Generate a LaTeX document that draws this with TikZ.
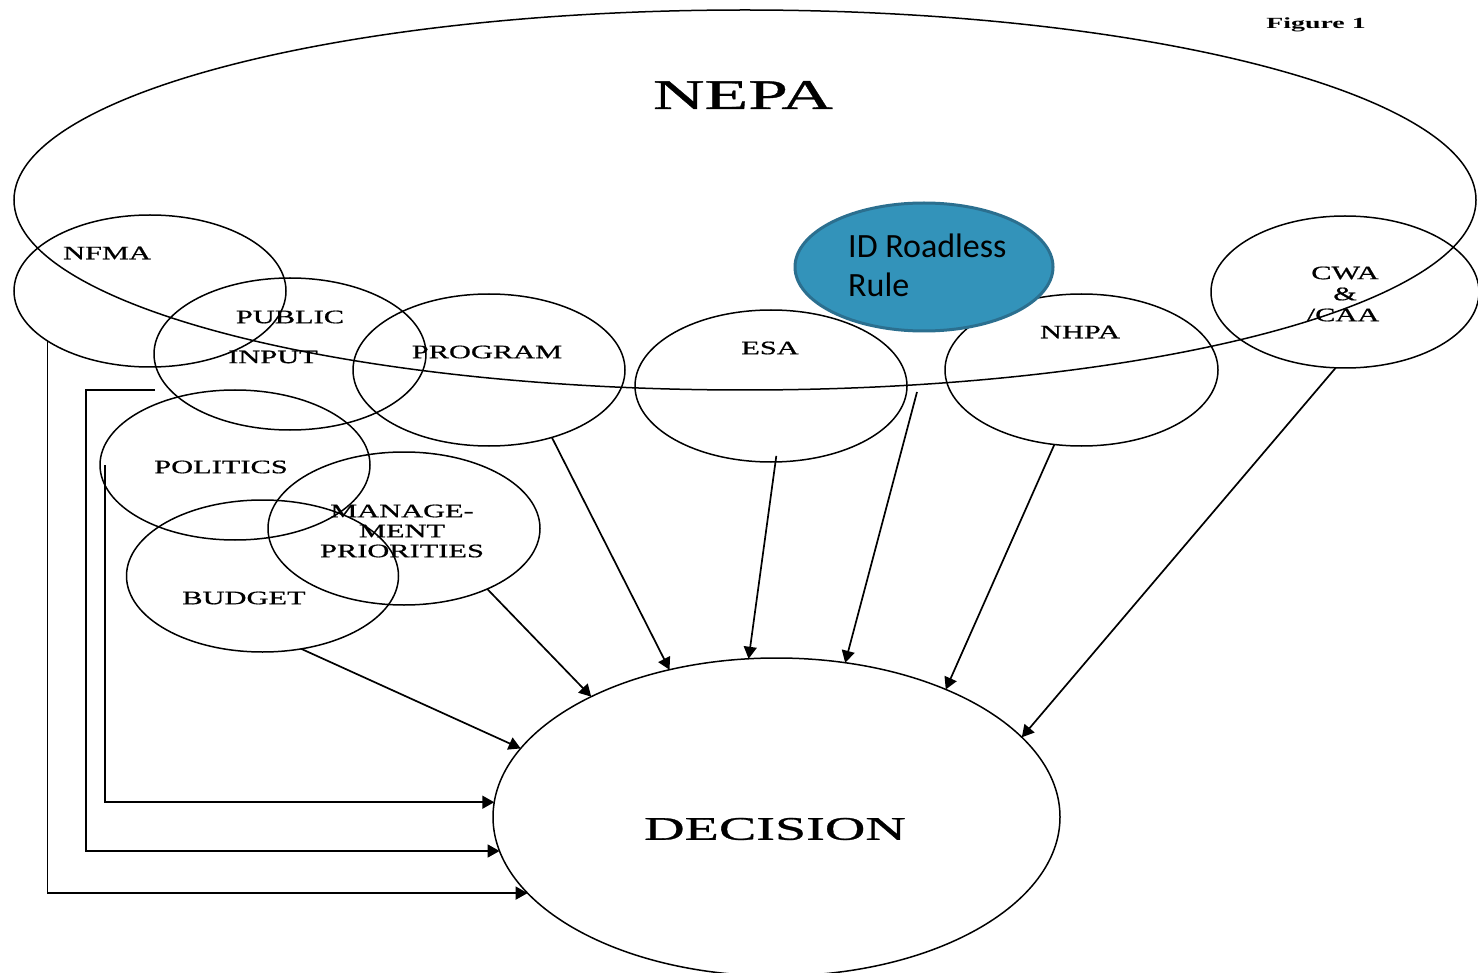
\documentclass[tikz,border=0pt]{standalone}
\usepackage{fontspec}
\setmainfont{Liberation Serif}
\newfontfamily\labfont[FakeStretch=1.6,FakeBold=0.8]{Liberation Serif}
\newfontfamily\bigfont[FakeStretch=1.7,FakeBold=0.8]{Liberation Serif}
\newfontfamily\figfont[FakeStretch=1.8]{Liberation Serif}
\newfontfamily\rulefont{Carlito}
\usetikzlibrary{shapes.geometric,arrows.meta}
\definecolor{rulefill}{HTML}{3393BA}
\definecolor{ruleedge}{HTML}{2B6F8F}
\tikzset{
  oval/.style={draw=black, ellipse, line width=1.5pt, inner sep=0pt, outer sep=0pt,
               minimum width=272pt, minimum height=152pt},
  lab/.style={font=\labfont\fontsize{19}{20}\selectfont, inner sep=0pt, align=center},
  big/.style={inner sep=0pt},
  arr/.style={-{Triangle[length=12pt,width=13pt]}, line width=1.7pt},
}
\begin{document}
\begin{tikzpicture}[x=1pt,y=-1pt]
\useasboundingbox (0,0) rectangle (1478,973);
\clip (0,0) rectangle (1478,973);
% big NEPA ellipse
\node[oval, minimum width=1462pt, minimum height=380pt] (nepa) at (745,200) {};
\node[big, font=\bigfont\fontsize{42}{44}\selectfont] (nepat) at (743,95) {NEPA};
\node[big, font=\figfont\bfseries\fontsize{15.5}{17}\selectfont] (fig) at (1316,25) {Figure 1};
% small ellipses
\node[oval] (nfma) at (150,291) {};
\node[oval] (pub)  at (290,354) {};
\node[oval] (prog) at (489,370) {};
\node[oval] (esa)  at (771,386) {};
\node[oval, minimum width=273pt] (nhpa) at (1081.5,370) {};
\node[oval, minimum width=268pt] (cwa)  at (1345,292) {};
\node[oval, minimum width=270pt, minimum height=150pt] (pol)  at (235,465) {};
\node[oval, minimum height=153pt] (mgmt) at (404,528.5) {};
\node[oval] (bud)  at (262.5,576) {};
\node[oval, minimum width=567pt, minimum height=318pt] (dec) at (776.5,817) {};
% roadless
\node[ellipse, draw=ruleedge, fill=rulefill, line width=3pt, inner sep=0pt,
      minimum width=258pt, minimum height=128pt] (road) at (924,267) {};
\node[inner sep=0pt, anchor=base west, align=left,
      font=\rulefont\fontsize{34}{39}\selectfont] (roadt) at (848,297) {ID Roadless\\Rule};
% labels
\node[lab] (nfmat) at (107,253) {NFMA};
\node[lab] (pubt1) at (290,317) {PUBLIC};
\node[lab] (pubt2) at (273,357) {INPUT};
\node[lab] (progt) at (487,352) {PROGRAM};
\node[lab] (esat)  at (770,348) {ESA};
\node[lab] (nhpat) at (1080,332) {NHPA};
\node[lab] (cwat1) at (1345,273) {CWA};
\node[lab] (cwat2) at (1345,294) {\&};
\node[lab] (cwat3) at (1343,315) {/CAA};
\node[lab] (polt)  at (221,467) {POLITICS};
\node[lab] (mgt1)  at (402,511) {MANAGE-};
\node[lab] (mgt2)  at (402,531) {MENT};
\node[lab] (mgt3)  at (402,551) {PRIORITIES};
\node[lab] (budt)  at (244,598) {BUDGET};
\node[big, font=\bigfont\fontsize{33}{35}\selectfont] (dect) at (775,829) {DECISION};
% free points
\coordinate (rfree) at (917,392);
\coordinate (pfree) at (155,390);
\coordinate (pbend) at (86,390);
% arrows
\draw[arr] (prog.-47) -- (dec.126);
\draw[arr] ([yshift=6pt]esa.-86) -- (dec.100);
\draw[arr] (rfree) -- (dec.66);
\draw[arr] (nhpa.-110) -- (dec.37);
\draw[arr] (cwa.-97) -- (dec.18);
\draw[arr] (mgmt.-36) -- (dec.147);
\draw[arr] (bud.-62) -- (dec.165.5);
\draw[arr] ([xshift=5pt]pol.west) |- (dec.177);
\draw[arr] (pfree) -- (pbend) |- (dec.187.7);
\draw[arr] (nfma.206) |- (dec.197);
\end{tikzpicture}
\end{document}
